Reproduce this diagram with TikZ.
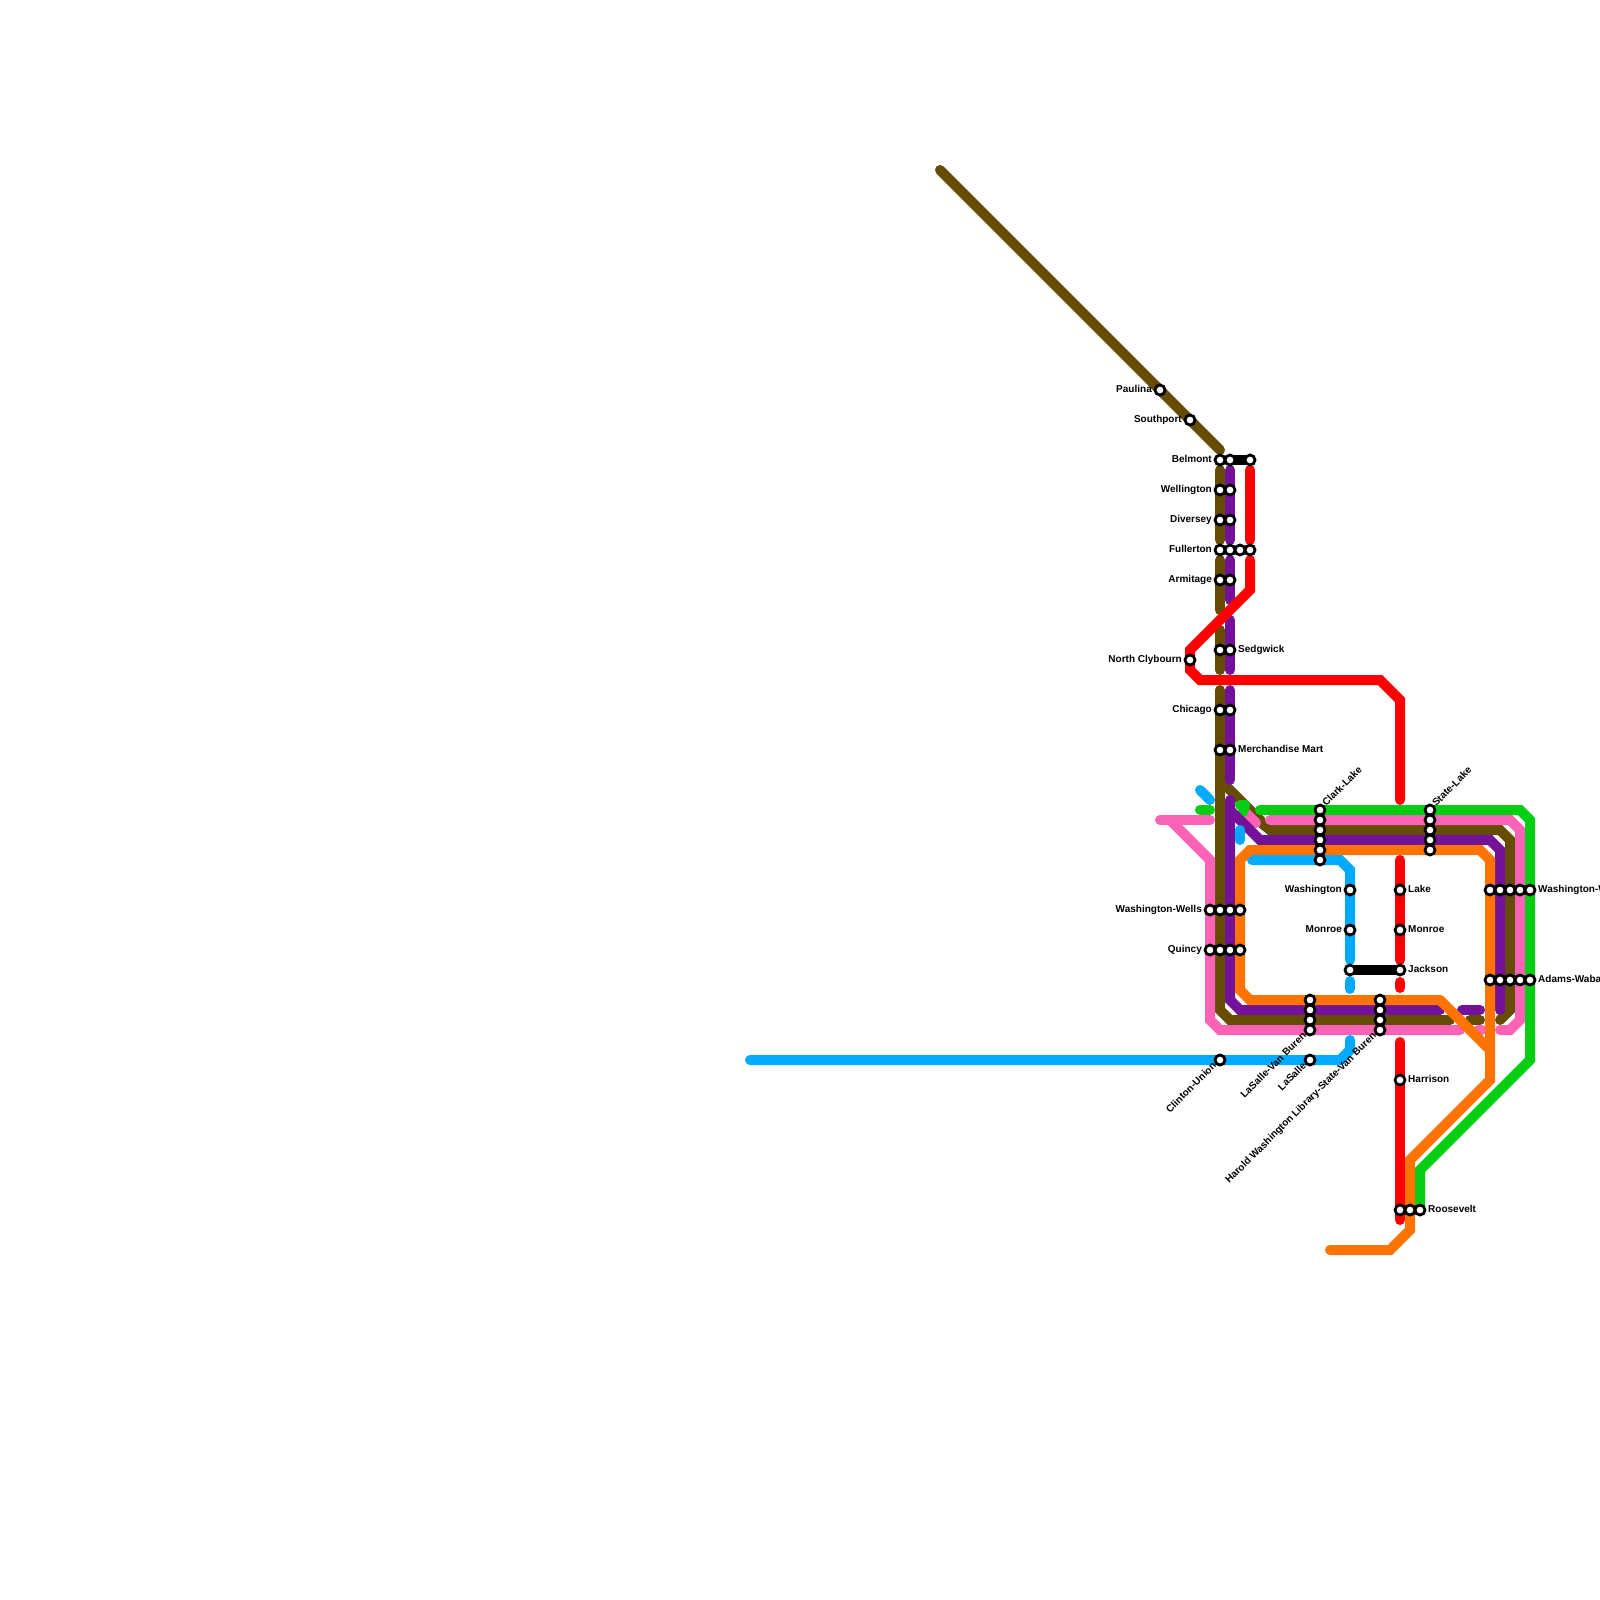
\documentclass[tikz,border=0pt]{standalone}
\usepackage{fontspec}
\setmainfont{Liberation Sans}
\usepackage{xcolor}
\usetikzlibrary{positioning}
\definecolor{brownln}{HTML}{654C00}
\definecolor{purpleln}{HTML}{731299}
\definecolor{pinkln}{HTML}{FC62B5}
\definecolor{greenln}{HTML}{04CE13}
\definecolor{blueln}{HTML}{00ABFF}
\definecolor{orangeln}{HTML}{FF7300}
\definecolor{redln}{HTML}{FF0000}
\tikzset{
  track/.style   = {line width=5pt, line cap=round},
  brownrun/.style  = {track, draw=brownln},
  purplerun/.style = {track, draw=purpleln},
  pinkrun/.style   = {track, draw=pinkln},
  greenrun/.style  = {track, draw=greenln},
  bluerun/.style   = {track, draw=blueln},
  orangerun/.style = {track, draw=orangeln},
  redrun/.style    = {track, draw=redln},
  blackrun/.style  = {track, line cap=butt, draw=black},
  stn/.style     = {circle, draw=black, fill=white, line width=1.4pt, minimum size=5pt, inner sep=0pt},
  stnname/.style = {font=\fontsize{5}{6}\selectfont\bfseries, inner sep=0pt, text height=3.6pt, text depth=1.4pt},
  nameup/.style  = {stnname, rotate=45, anchor=west},
  namedn/.style  = {stnname, rotate=45, anchor=east},
}
\begin{document}
\begin{tikzpicture}[x=0.5pt, y=-0.5pt, node distance=0.7pt]
  \useasboundingbox (0,0) rectangle (1600,1600);

  \draw[brownrun] (940,170) -- (1220,450);
  \draw[brownrun] (1220,470) -- (1220,540);
  \draw[brownrun] (1220,560) -- (1220,610);
  \draw[brownrun] (1220,630) -- (1220,670);
  \draw[brownrun] (1220,690) -- (1220,1010) -- (1230,1020) -- (1450,1020);
  \draw[brownrun] (1470,1020) -- (1480,1020);
  \draw[brownrun] (1500,1020) -- (1510,1010) -- (1510,840) -- (1500,830) -- (1270,830) -- (1260,822) -- (1260,820) -- (1220,780);

  \draw[pinkrun] (1160,820) -- (1210,820);
  \draw[pinkrun] (1170,820) -- (1210,860) -- (1210,1020) -- (1220,1030) -- (1460,1030);
  \draw[pinkrun] (1478,1030) -- (1482,1030);
  \draw[pinkrun] (1500,1030) -- (1510,1030) -- (1520,1020) -- (1520,830) -- (1510,820) -- (1270,820);
  \draw[pinkrun] (1243,810) -- (1256,823);

  \draw[greenrun] (1200,810) -- (1210,810);
  \draw[greenrun] (1260,810) -- (1520,810) -- (1530,820) -- (1530,1060) -- (1420,1170) -- (1420,1210);
  \draw[greenrun, line join=round] (1240,805) -- (1245,805) -- (1243,812);

  \draw[purplerun] (1230,470) -- (1230,540);
  \draw[purplerun] (1230,560) -- (1230,600);
  \draw[purplerun] (1230,620) -- (1230,670);
  \draw[purplerun] (1230,690) -- (1230,780);
  \draw[purplerun] (1230,800) -- (1230,1000) -- (1240,1010) -- (1440,1010);
  \draw[purplerun] (1462,1010) -- (1480,1010);
  \draw[purplerun] (1230,810) -- (1260,840) -- (1490,840) -- (1500,850) -- (1500,1010);

  \draw[bluerun] (750,1060) -- (1340,1060) -- (1350,1050) -- (1350,1040);
  \draw[bluerun] (1252,860) -- (1340,860) -- (1350,870) -- (1350,960);
  \draw[bluerun] (1350,981) -- (1350,989);
  \draw[bluerun] (1200,790) -- (1210,800);
  \draw[bluerun] (1240,830) -- (1240,840);

  \draw[orangerun] (1440,1000) -- (1250,1000) -- (1240,990) -- (1240,860) -- (1250,850) -- (1480,850) -- (1490,860) -- (1490,1080) -- (1410,1160) -- (1410,1230) -- (1390,1250) -- (1330,1250);
  \draw[orangerun] (1440,1000) -- (1490,1050);

  \draw[redrun] (1250,470) -- (1250,540);
  \draw[redrun] (1250,560) -- (1250,590) -- (1190,650) -- (1190,670) -- (1200,680) -- (1380,680) -- (1400,700) -- (1400,800);
  \draw[redrun] (1400,860) -- (1400,960);
  \draw[redrun] (1400,982) -- (1400,988);
  \draw[redrun] (1400,1042) -- (1400,1220);

  \draw[blackrun] (1230,460) -- (1250,460);
  \draw[blackrun] (1350,970) -- (1400,970);

  \node[stn] (paulina) at (1160,390) {};
  \node[stn] (southport) at (1190,420) {};
  \node[stn] (northclybourn) at (1190,660) {};
  \foreach \nm/\y in {belmont/460, wellington/490, diversey/520, fullerton/550, armitage/580, sedgwick/650, chicago/710, merchmart/750}{
    \node[stn] (\nm a) at (1220,\y) {};
    \node[stn] (\nm b) at (1230,\y) {};
  }
  \node[stn] (belmontc) at (1250,460) {};
  \node[stn] (fullertonc) at (1240,550) {};
  \node[stn] (fullertond) at (1250,550) {};
  \foreach \nm/\y in {wells/910, quincy/950}{
    \node[stn] (\nm a) at (1210,\y) {};
    \node[stn] (\nm b) at (1220,\y) {};
    \node[stn] (\nm c) at (1230,\y) {};
    \node[stn] (\nm d) at (1240,\y) {};
  }
  \foreach \y in {810,820,...,860} \node[stn] (clark\y) at (1320,\y) {};
  \foreach \y in {810,820,...,850} \node[stn] (statelake\y) at (1430,\y) {};
  \foreach \y in {1000,1010,...,1030} \node[stn] (vanburen\y) at (1310,\y) {};
  \foreach \y in {1000,1010,...,1030} \node[stn] (library\y) at (1380,\y) {};
  \foreach \x in {1490,1500,...,1530} \node[stn] (wabash\x) at (\x,890) {};
  \foreach \x in {1490,1500,...,1530} \node[stn] (adams\x) at (\x,980) {};
  \node[stn] (clinton) at (1220,1060) {};
  \node[stn] (lasalle) at (1310,1060) {};
  \node[stn] (washington) at (1350,890) {};
  \node[stn] (monroeb) at (1350,930) {};
  \node[stn] (jacksonb) at (1350,970) {};
  \node[stn] (lake) at (1400,890) {};
  \node[stn] (monroer) at (1400,930) {};
  \node[stn] (jacksonr) at (1400,970) {};
  \node[stn] (harrison) at (1400,1080) {};
  \node[stn] (rooseveltr) at (1400,1210) {};
  \node[stn] (rooseveltm) at (1410,1210) {};
  \node[stn] (rooseveltg) at (1420,1210) {};

  \node[stnname, left=of paulina] {Paulina};
  \node[stnname, left=of southport] {Southport};
  \node[stnname, left=of belmonta] {Belmont};
  \node[stnname, left=of wellingtona] {Wellington};
  \node[stnname, left=of diverseya] {Diversey};
  \node[stnname, left=of fullertona] {Fullerton};
  \node[stnname, left=of armitagea] {Armitage};
  \node[stnname, left=of northclybourn] {North Clybourn};
  \node[stnname, left=of chicagoa] {Chicago};
  \node[stnname, left=of wellsa] {Washington-Wells};
  \node[stnname, left=of quincya] {Quincy};
  \node[stnname, left=of washington] {Washington};
  \node[stnname, left=of monroeb] {Monroe};
  \node[stnname, right=of sedgwickb] {Sedgwick};
  \node[stnname, right=of merchmartb] {Merchandise Mart};
  \node[stnname, right=of lake] {Lake};
  \node[stnname, right=of monroer] {Monroe};
  \node[stnname, right=of jacksonr] {Jackson};
  \node[stnname, right=of harrison] {Harrison};
  \node[stnname, right=of rooseveltg] {Roosevelt};
  \node[stnname, right=of wabash1530] {Washington-Wabash};
  \node[stnname, right=of adams1530] {Adams-Wabash};
  \node[nameup] at (clark810.45) {Clark-Lake};
  \node[nameup] at (statelake810.45) {State-Lake};
  \node[namedn] at (clinton.225) {Clinton-Union};
  \node[namedn] at (vanburen1030.225) {LaSalle-Van Buren};
  \node[namedn] at (lasalle.225) {LaSalle};
  \node[namedn] at (library1030.225) {Harold Washington Library-State-Van Buren};
\end{tikzpicture}
\end{document}
